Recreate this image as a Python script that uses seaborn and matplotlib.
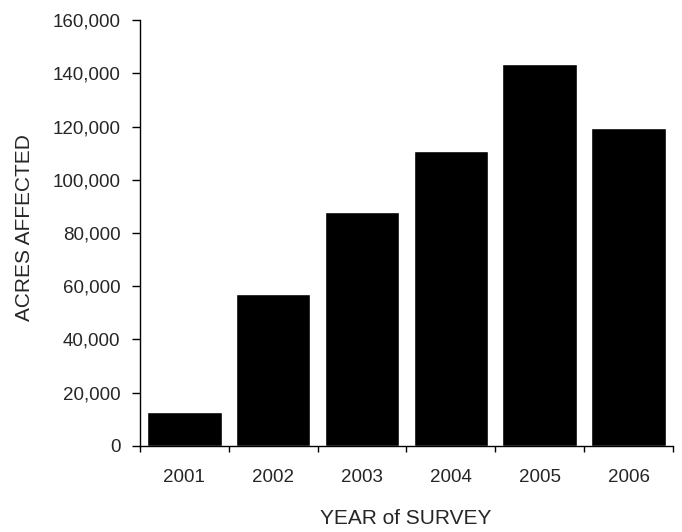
import matplotlib
matplotlib.use("Agg")
import matplotlib.pyplot as plt
import seaborn as sns
import pandas as pd
from matplotlib.ticker import FuncFormatter, FixedLocator

# --- DATA ---
years = ["2001", "2002", "2003", "2004", "2005", "2006"]
acres = [12800, 57100, 87900, 110800, 143400, 119400]

df = pd.DataFrame({"year": years, "acres": acres})

sns.set_style("white")
plt.rcParams["font.family"] = ["Liberation Sans", "DejaVu Sans"]

fig = plt.figure(figsize=(6.82, 5.32), dpi=100)
ax = fig.add_axes([0.205, 0.162, 0.782, 0.800])

sns.barplot(data=df, x="year", y="acres", color="black", width=0.84,
            saturation=1, ax=ax)

ax.set_xlim(-0.5, 5.5)
ax.set_ylim(0, 160000)
ax.set_yticks(range(0, 160001, 20000))
ax.yaxis.set_major_formatter(FuncFormatter(lambda v, p: f"{int(v):,}"))

# ticks between categories on the x axis, labels centred under bars
ax.xaxis.set_major_locator(FixedLocator([i - 0.5 for i in range(7)]))
ax.xaxis.set_minor_locator(FixedLocator(range(6)))
ax.set_xticklabels([""] * 7)
ax.set_xticklabels(years, minor=True)
ax.tick_params(axis="x", which="major", direction="out", length=4, width=1,
               color="black", bottom=True)
ax.tick_params(axis="x", which="minor", length=0, labelsize=13.5, pad=17)
ax.tick_params(axis="y", direction="out", length=6, width=1, color="black",
               left=True, labelsize=13.5, pad=8)

for side in ["top", "right"]:
    ax.spines[side].set_visible(False)
for side in ["left", "bottom"]:
    ax.spines[side].set_color("black")
    ax.spines[side].set_linewidth(1)

ax.set_xlabel("")
ax.set_ylabel("")
fig.text(405.5 / 682, 1 - 519 / 532, "YEAR of SURVEY", fontsize=15,
         ha="center", va="center")
fig.text(24.5 / 682, 1 - 227.5 / 532, "ACRES AFFECTED", fontsize=15,
         rotation=90, ha="center", va="center")

fig.savefig("out.png", dpi=100)
